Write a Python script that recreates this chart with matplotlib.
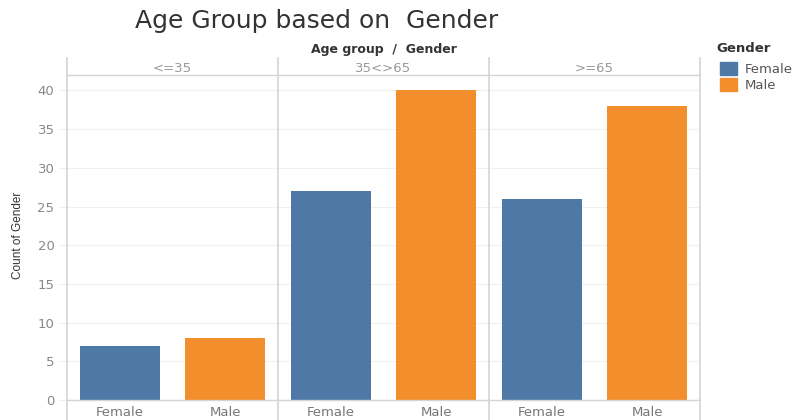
import matplotlib.pyplot as plt
from matplotlib.lines import Line2D
from matplotlib.patches import Patch

age_groups = ["<=35", "35<>65", ">=65"]
genders = ["Female", "Male"]
female_counts = [7, 27, 26]
male_counts = [8, 40, 38]
colors = {"Female": "#4E79A7", "Male": "#F28E2B"}

W, H = 799, 420
plt.rcParams['font.family'] = ['DejaVu Sans']
fig = plt.figure(figsize=(W / 100, H / 100), dpi=100)

left, right = 67 / W, 700 / W
bottom, top = (H - 400) / H, (H - 75) / H
pw = (right - left) / 3

line_col = "#d4d4d4"
for i, grp in enumerate(age_groups):
    ax = fig.add_axes([left + i * pw, bottom, pw, top - bottom])
    vals = [female_counts[i], male_counts[i]]
    ax.bar(genders, vals, width=0.76, color=[colors[g] for g in genders], zorder=3)
    ax.set_xlim(-0.5, 1.5)
    ax.set_ylim(0, 42)
    ax.set_yticks(range(0, 41, 5))
    ax.grid(axis="y", color="#f0f0f0", linewidth=0.8, zorder=0)
    for s in ax.spines.values():
        s.set_visible(False)
    ax.tick_params(axis="x", length=0, labelsize=9.5, colors="#777777", pad=4)
    if i == 0:
        ax.tick_params(axis="y", length=6, color="#eeeeee", labelsize=9.5,
                       colors="#888888", pad=3)
    else:
        ax.tick_params(axis="y", left=False, labelleft=False)
    # header text
    fig.text(left + (i + 0.5) * pw, (H - 68) / H, grp, ha="center", va="center",
             fontsize=9.5, color="#999999")

# panel borders
for i in range(4):
    x = left + i * pw
    fig.add_artist(Line2D([x, x], [0, (H - 58) / H], color=line_col, lw=1.2))
fig.add_artist(Line2D([left, right], [top, top], color=line_col, lw=1.0))
fig.add_artist(Line2D([left, right], [bottom, bottom], color=line_col, lw=1.0))

fig.text(135 / W, (H - 21) / H, "Age Group based on  Gender", fontsize=18,
         color="#333333", va="center", ha="left")
fig.text((left + right) / 2, (H - 50) / H, "Age group  /  Gender",
         fontsize=9, fontweight="bold", color="#333333", ha="center", va="center")
fig.text(18 / W, (H - 235) / H, "Count of Gender", rotation=90, fontsize=8.5,
         color="#333333", ha="center", va="center",
         family=['Liberation Sans Narrow', 'Liberation Sans'])

# legend
fig.text(716 / W, (H - 49) / H, "Gender", fontsize=9.5, fontweight="bold",
         color="#333333", va="center")
handles = [Patch(color=colors[g]) for g in genders]
fig.legend(handles, genders, loc="upper left", bbox_to_anchor=(708 / W, (H - 50) / H),
           frameon=False, fontsize=9.5, handlelength=1.3, handleheight=1.1,
           handletextpad=0.6, labelspacing=0.2, labelcolor="#555555")

fig.savefig("out.png", dpi=100)
